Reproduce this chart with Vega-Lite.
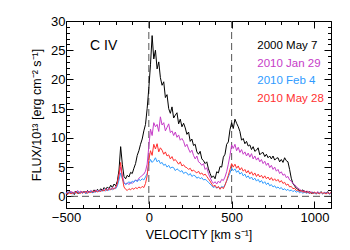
{
"$schema": "https://vega.github.io/schema/vega-lite/v6.json",
"width": 265, "height": 187,
"autosize": {"type": "none"},
"padding": {"left": 66, "top": 21, "right": 19, "bottom": 42},
"background": "white",
"config": {"view": {"stroke": "#000", "strokeWidth": 1}, "font": "Liberation Sans",
  "axis": {"grid": false, "domain": false, "labelColor": "#000", "tickColor": "#000", "titleColor": "#000", "labelFontSize": 13, "titleFontSize": 12.5, "titleFontWeight": "normal", "labelFlush": false, "labelOverlap": false, "labelFont": "Liberation Sans", "titleFont": "Liberation Sans"}},
"datasets": {
"spec": [
{"v":-500,"K":0.6,"J":0.5,"F":0.4,"M":0.5},{"v":-490,"K":0.4,"J":0.8,"F":0.7,"M":0.3},{"v":-480,"K":0.8,"J":0.6,"F":0.5,"M":0.7},{"v":-470,"K":0.5,"J":0.9,"F":0.6,"M":0.4},{"v":-460,"K":0.7,"J":0.5,"F":0.4,"M":0.6},{"v":-450,"K":0.3,"J":0.8,"F":0.7,"M":0.5},{"v":-440,"K":0.9,"J":0.6,"F":0.5,"M":0.8},{"v":-430,"K":0.6,"J":1.0,"F":0.8,"M":0.4},{"v":-420,"K":0.5,"J":0.7,"F":0.5,"M":0.7},{"v":-410,"K":0.8,"J":0.9,"F":0.7,"M":0.5},
{"v":-400,"K":0.6,"J":0.5,"F":0.6,"M":0.8},{"v":-390,"K":0.9,"J":0.8,"F":0.8,"M":0.6},{"v":-380,"K":0.5,"J":0.6,"F":0.5,"M":0.9},{"v":-370,"K":1.0,"J":0.9,"F":0.7,"M":0.5},{"v":-360,"K":0.7,"J":0.7,"F":0.6,"M":0.8},{"v":-350,"K":0.9,"J":1.0,"F":0.9,"M":0.6},{"v":-340,"K":0.6,"J":0.8,"F":0.6,"M":0.9},{"v":-330,"K":1.1,"J":0.7,"F":0.8,"M":0.7},{"v":-320,"K":0.8,"J":1.1,"F":0.7,"M":1.0},{"v":-310,"K":1.2,"J":0.8,"F":1.0,"M":0.7},
{"v":-300,"K":0.9,"J":1.0,"F":0.8,"M":1.0},{"v":-290,"K":1.3,"J":0.9,"F":1.0,"M":0.8},{"v":-280,"K":1.0,"J":1.2,"F":0.9,"M":1.1},{"v":-270,"K":1.5,"J":0.9,"F":1.1,"M":0.9},{"v":-260,"K":1.2,"J":1.3,"F":0.9,"M":1.2},{"v":-250,"K":1.6,"J":1.0,"F":1.2,"M":1.0},{"v":-240,"K":1.3,"J":1.4,"F":1.0,"M":1.3},{"v":-230,"K":1.9,"J":1.2,"F":1.3,"M":1.1},{"v":-220,"K":1.5,"J":1.5,"F":1.1,"M":1.4},{"v":-210,"K":2.1,"J":1.3,"F":1.4,"M":1.2},
{"v":-200,"K":1.8,"J":1.6,"F":1.3,"M":1.5},{"v":-190,"K":2.6,"J":2.2,"F":1.8,"M":2.2},{"v":-180,"K":4.5,"J":3.5,"F":2.8,"M":3.8},{"v":-170,"K":8.5,"J":5.0,"F":4.0,"M":5.8},{"v":-160,"K":5.5,"J":3.6,"F":3.0,"M":3.2},{"v":-150,"K":3.4,"J":2.4,"F":2.3,"M":1.6},{"v":-140,"K":3.0,"J":2.1,"F":2.0,"M":1.2},{"v":-130,"K":3.6,"J":2.3,"F":2.2,"M":1.0},{"v":-120,"K":3.3,"J":2.0,"F":2.5,"M":1.3},{"v":-110,"K":4.1,"J":2.4,"F":2.2,"M":1.1},
{"v":-100,"K":3.9,"J":2.2,"F":2.6,"M":1.4},{"v":-90,"K":4.8,"J":2.5,"F":2.4,"M":1.2},{"v":-80,"K":5.6,"J":2.8,"F":2.8,"M":1.5},{"v":-70,"K":7.0,"J":2.6,"F":2.5,"M":1.3},{"v":-60,"K":7.8,"J":3.1,"F":2.9,"M":1.6},{"v":-50,"K":8.9,"J":3.3,"F":2.7,"M":1.4},{"v":-40,"K":9.8,"J":3.6,"F":3.0,"M":1.7},{"v":-30,"K":11.2,"J":3.8,"F":2.8,"M":1.5},{"v":-20,"K":12.3,"J":4.3,"F":3.3,"M":2.2},{"v":-10,"K":15.0,"J":5.5,"F":3.9,"M":3.5},
{"v":0,"K":18.5,"J":8.5,"F":5.5,"M":6.2},{"v":10,"K":22.5,"J":11.5,"F":6.3,"M":7.8},{"v":20,"K":27.5,"J":10.4,"F":5.8,"M":7.0},{"v":30,"K":23.5,"J":12.6,"F":6.1,"M":8.9},{"v":40,"K":25.0,"J":11.9,"F":6.6,"M":8.1},{"v":50,"K":21.8,"J":12.3,"F":5.9,"M":9.0},{"v":60,"K":23.0,"J":11.1,"F":6.2,"M":7.6},{"v":70,"K":20.3,"J":13.6,"F":5.6,"M":8.3},{"v":80,"K":19.0,"J":12.2,"F":5.8,"M":7.9},{"v":90,"K":19.6,"J":12.6,"F":5.3,"M":7.2},
{"v":100,"K":16.9,"J":11.2,"F":5.5,"M":7.6},{"v":110,"K":17.4,"J":11.8,"F":5.0,"M":6.9},{"v":120,"K":15.0,"J":12.4,"F":5.3,"M":7.1},{"v":130,"K":14.2,"J":10.9,"F":4.8,"M":6.4},{"v":140,"K":15.3,"J":11.2,"F":5.0,"M":6.8},{"v":150,"K":13.4,"J":10.4,"F":4.9,"M":6.1},{"v":160,"K":13.9,"J":11.0,"F":4.4,"M":6.3},{"v":170,"K":14.3,"J":10.1,"F":4.7,"M":5.9},{"v":180,"K":12.4,"J":10.5,"F":4.5,"M":5.5},{"v":190,"K":13.2,"J":9.6,"F":4.2,"M":5.9},
{"v":200,"K":11.9,"J":9.9,"F":4.4,"M":5.2},{"v":210,"K":12.5,"J":9.4,"F":3.9,"M":5.4},{"v":220,"K":11.7,"J":8.5,"F":4.1,"M":5.0},{"v":230,"K":10.6,"J":8.9,"F":4.0,"M":4.9},{"v":240,"K":11.0,"J":8.1,"F":3.6,"M":4.6},{"v":250,"K":9.4,"J":7.5,"F":3.9,"M":4.8},{"v":260,"K":9.8,"J":7.9,"F":3.4,"M":4.3},{"v":270,"K":8.7,"J":7.0,"F":3.6,"M":4.5},{"v":280,"K":8.9,"J":6.4,"F":3.5,"M":4.2},{"v":290,"K":7.6,"J":6.9,"F":3.1,"M":4.0},
{"v":300,"K":7.2,"J":5.9,"F":3.3,"M":4.3},{"v":310,"K":7.7,"J":5.7,"F":3.0,"M":3.8},{"v":320,"K":6.4,"J":5.3,"F":3.2,"M":4.0},{"v":330,"K":6.1,"J":5.6,"F":2.8,"M":3.6},{"v":340,"K":5.6,"J":4.6,"F":2.9,"M":3.8},{"v":350,"K":5.9,"J":4.9,"F":2.7,"M":3.4},{"v":360,"K":4.7,"J":3.9,"F":2.4,"M":3.0},{"v":370,"K":3.9,"J":3.2,"F":2.1,"M":2.6},{"v":380,"K":3.2,"J":2.6,"F":1.8,"M":2.1},{"v":390,"K":3.5,"J":2.2,"F":1.5,"M":1.7},
{"v":400,"K":3.0,"J":2.5,"F":1.7,"M":1.9},{"v":410,"K":4.2,"J":2.1,"F":1.4,"M":1.4},{"v":420,"K":4.0,"J":2.6,"F":1.6,"M":1.7},{"v":430,"K":5.1,"J":2.3,"F":1.3,"M":1.2},{"v":440,"K":5.0,"J":2.9,"F":1.7,"M":1.6},{"v":450,"K":6.7,"J":2.7,"F":1.5,"M":1.3},{"v":460,"K":7.2,"J":3.3,"F":2.0,"M":1.9},{"v":470,"K":8.9,"J":4.2,"F":2.6,"M":2.7},{"v":480,"K":9.3,"J":5.5,"F":3.3,"M":3.6},{"v":490,"K":11.4,"J":7.0,"F":4.0,"M":4.6},
{"v":500,"K":12.6,"J":8.8,"F":4.8,"M":5.6},{"v":510,"K":11.6,"J":8.2,"F":4.4,"M":5.0},{"v":520,"K":13.2,"J":8.9,"F":4.7,"M":5.5},{"v":530,"K":12.5,"J":7.8,"F":4.1,"M":4.8},{"v":540,"K":11.9,"J":8.4,"F":4.4,"M":5.2},{"v":550,"K":11.1,"J":7.5,"F":3.8,"M":4.5},{"v":560,"K":9.6,"J":8.0,"F":4.1,"M":4.9},{"v":570,"K":9.9,"J":7.2,"F":3.5,"M":4.3},{"v":580,"K":9.0,"J":7.6,"F":3.8,"M":4.6},{"v":590,"K":9.4,"J":6.9,"F":3.2,"M":4.0},
{"v":600,"K":8.6,"J":7.4,"F":3.5,"M":4.4},{"v":610,"K":8.8,"J":6.7,"F":3.0,"M":3.8},{"v":620,"K":8.0,"J":7.3,"F":3.3,"M":4.2},{"v":630,"K":8.5,"J":6.4,"F":2.8,"M":3.6},{"v":640,"K":7.7,"J":6.9,"F":3.1,"M":4.0},{"v":650,"K":7.9,"J":6.2,"F":2.6,"M":3.4},{"v":660,"K":8.3,"J":6.6,"F":2.9,"M":3.8},{"v":670,"K":7.1,"J":5.9,"F":2.4,"M":3.3},{"v":680,"K":7.4,"J":6.3,"F":2.7,"M":3.6},{"v":690,"K":7.5,"J":5.6,"F":2.2,"M":3.1},
{"v":700,"K":6.8,"J":6.0,"F":2.5,"M":3.5},{"v":710,"K":7.2,"J":5.3,"F":2.0,"M":3.0},{"v":720,"K":6.6,"J":5.7,"F":2.3,"M":3.3},{"v":730,"K":6.9,"J":4.9,"F":1.8,"M":2.8},{"v":740,"K":6.4,"J":5.3,"F":2.0,"M":3.2},{"v":750,"K":6.9,"J":4.6,"F":1.6,"M":2.7},{"v":760,"K":6.2,"J":5.0,"F":1.8,"M":3.0},{"v":770,"K":6.5,"J":4.3,"F":1.4,"M":2.6},{"v":780,"K":6.6,"J":4.6,"F":1.6,"M":2.9},{"v":790,"K":5.9,"J":3.9,"F":1.3,"M":2.4},
{"v":800,"K":6.3,"J":4.2,"F":1.5,"M":2.7},{"v":810,"K":5.8,"J":3.6,"F":1.1,"M":2.2},{"v":820,"K":6.6,"J":3.8,"F":1.3,"M":2.4},{"v":830,"K":6.1,"J":3.2,"F":1.0,"M":1.9},{"v":840,"K":5.9,"J":3.4,"F":1.2,"M":2.1},{"v":850,"K":4.6,"J":2.8,"F":0.9,"M":1.6},{"v":860,"K":3.1,"J":2.6,"F":1.1,"M":1.7},{"v":870,"K":2.2,"J":2.2,"F":0.8,"M":1.3},{"v":880,"K":1.8,"J":2.0,"F":1.0,"M":1.4},{"v":890,"K":1.4,"J":1.7,"F":0.7,"M":1.0},
{"v":900,"K":1.2,"J":1.4,"F":0.9,"M":1.1},{"v":910,"K":1.0,"J":1.2,"F":0.6,"M":0.8},{"v":920,"K":0.9,"J":1.0,"F":0.8,"M":1.0},{"v":930,"K":1.1,"J":0.8,"F":0.5,"M":0.7},{"v":940,"K":0.7,"J":1.0,"F":0.8,"M":0.9},{"v":950,"K":0.9,"J":0.7,"F":0.5,"M":0.6},{"v":960,"K":0.6,"J":0.9,"F":0.7,"M":0.8},{"v":970,"K":0.8,"J":0.6,"F":0.4,"M":0.5},{"v":980,"K":0.5,"J":0.8,"F":0.7,"M":0.7},{"v":990,"K":0.7,"J":0.5,"F":0.5,"M":0.4},
{"v":1000,"K":0.6,"J":0.7,"F":0.6,"M":0.7},{"v":1010,"K":0.4,"J":0.5,"F":0.4,"M":0.5},{"v":1020,"K":0.7,"J":0.8,"F":0.6,"M":0.6},{"v":1030,"K":0.5,"J":0.5,"F":0.5,"M":0.4},{"v":1040,"K":0.8,"J":0.7,"F":0.7,"M":0.7},{"v":1050,"K":0.4,"J":0.4,"F":0.4,"M":0.5},{"v":1060,"K":0.6,"J":0.7,"F":0.6,"M":0.6},{"v":1070,"K":0.5,"J":0.5,"F":0.5,"M":0.4},{"v":1080,"K":0.8,"J":0.7,"F":0.6,"M":0.6},{"v":1090,"K":0.4,"J":0.4,"F":0.4,"M":0.5},
{"v":1100,"K":0.6,"J":0.6,"F":0.5,"M":0.6}
],
"rv": [{"x": 0}, {"x": 500}],
"rh": [{"y": 0}],
"lab": [{"t": "2000 May 7", "v": 655, "y": 25.7}, {"t": "2010 Jan 29", "v": 655, "y": 22.7}, {"t": "2010 Feb 4", "v": 655, "y": 19.7}, {"t": "2010 May 28", "v": 655, "y": 16.6}],
"ion": [{"t": "C IV", "v": -355, "y": 25.8}]
},
"layer": [
{"data": {"name": "rv"}, "mark": {"type": "rule", "color": "#555", "strokeDash": [7, 4], "strokeWidth": 1},
 "encoding": {"x": {"field": "x", "type": "quantitative", "scale": {"domain": [-500, 1100], "nice": false, "zero": false},
   "axis": {"orient": "top", "values": [-500,-400,-300,-200,-100,0,100,200,300,400,500,600,700,800,900,1000,1100], "labels": false, "title": null,
     "tickSize": {"condition": {"test": "datum.value % 500 === 0", "value": -7}, "value": -3.5}}}}},
{"data": {"name": "rh"}, "mark": {"type": "rule", "color": "#555", "strokeDash": [7, 4], "strokeWidth": 1},
 "encoding": {"y": {"field": "y", "type": "quantitative", "scale": {"domain": [-2, 30], "nice": false, "zero": false},
   "axis": {"orient": "right", "values": [-2,-1,0,1,2,3,4,5,6,7,8,9,10,11,12,13,14,15,16,17,18,19,20,21,22,23,24,25,26,27,28,29,30], "labels": false, "title": null,
     "tickSize": {"condition": {"test": "datum.value % 5 === 0", "value": -7}, "value": -3.5}}}}},
{"data": {"name": "spec"}, "mark": {"type": "line", "color": "#000000", "strokeWidth": 1},
 "encoding": {"x": {"field": "v", "type": "quantitative", "scale": {"domain": [-500, 1100], "nice": false, "zero": false},
   "axis": {"orient": "bottom", "format": "d", "values": [-500,-400,-300,-200,-100,0,100,200,300,400,500,600,700,800,900,1000,1100], "labelExpr": "datum.value % 500 === 0 ? datum.label : ''", "title": "VELOCITY [km s⁻¹]", "labelPadding": 10, "titlePadding": 1,
     "tickSize": {"condition": {"test": "datum.value % 500 === 0", "value": -7}, "value": -3.5}}},
  "y": {"field": "K", "type": "quantitative", "scale": {"domain": [-2, 30], "nice": false, "zero": false},
   "axis": {"orient": "left", "values": [-2,-1,0,1,2,3,4,5,6,7,8,9,10,11,12,13,14,15,16,17,18,19,20,21,22,23,24,25,26,27,28,29,30], "labelExpr": "datum.value % 5 === 0 ? datum.label : ''", "title": "FLUX/10¹³ [erg cm⁻² s⁻¹]", "labelPadding": 8, "titleX": -30, "titleY": 93.5, "titleBaseline": "middle", "titleAngle": 270,
     "tickSize": {"condition": {"test": "datum.value % 5 === 0", "value": -7}, "value": -3.5}}}}},
{"data": {"name": "spec"}, "mark": {"type": "line", "color": "#c63cc8", "strokeWidth": 1},
 "encoding": {"x": {"field": "v", "type": "quantitative", "scale": {"domain": [-500, 1100], "nice": false, "zero": false}, "axis": null},
  "y": {"field": "J", "type": "quantitative", "scale": {"domain": [-2, 30], "nice": false, "zero": false}, "axis": null}}},
{"data": {"name": "spec"}, "mark": {"type": "line", "color": "#2e9bff", "strokeWidth": 1},
 "encoding": {"x": {"field": "v", "type": "quantitative", "scale": {"domain": [-500, 1100], "nice": false, "zero": false}, "axis": null},
  "y": {"field": "F", "type": "quantitative", "scale": {"domain": [-2, 30], "nice": false, "zero": false}, "axis": null}}},
{"data": {"name": "spec"}, "mark": {"type": "line", "color": "#ff3030", "strokeWidth": 1},
 "encoding": {"x": {"field": "v", "type": "quantitative", "scale": {"domain": [-500, 1100], "nice": false, "zero": false}, "axis": null},
  "y": {"field": "M", "type": "quantitative", "scale": {"domain": [-2, 30], "nice": false, "zero": false}, "axis": null}}},
{"data": {"name": "lab"}, "mark": {"type": "text", "align": "left", "baseline": "middle", "fontSize": 11.5, "font": "Liberation Sans"},
 "encoding": {"x": {"field": "v", "type": "quantitative", "scale": {"domain": [-500, 1100], "nice": false, "zero": false}, "axis": null},
  "y": {"field": "y", "type": "quantitative", "scale": {"domain": [-2, 30], "nice": false, "zero": false}, "axis": null},
  "text": {"field": "t"},
  "color": {"field": "t", "type": "nominal", "legend": null, "scale": {"domain": ["2000 May 7", "2010 Jan 29", "2010 Feb 4", "2010 May 28"], "range": ["#000000", "#c63cc8", "#2e9bff", "#ff3030"]}}}},
{"data": {"name": "ion"}, "mark": {"type": "text", "align": "left", "baseline": "middle", "fontSize": 14, "font": "Liberation Sans", "color": "#000"},
 "encoding": {"x": {"field": "v", "type": "quantitative", "scale": {"domain": [-500, 1100], "nice": false, "zero": false}, "axis": null},
  "y": {"field": "y", "type": "quantitative", "scale": {"domain": [-2, 30], "nice": false, "zero": false}, "axis": null},
  "text": {"field": "t"}}}
],
"resolve": {"axis": {"x": "independent", "y": "independent"}}
}
